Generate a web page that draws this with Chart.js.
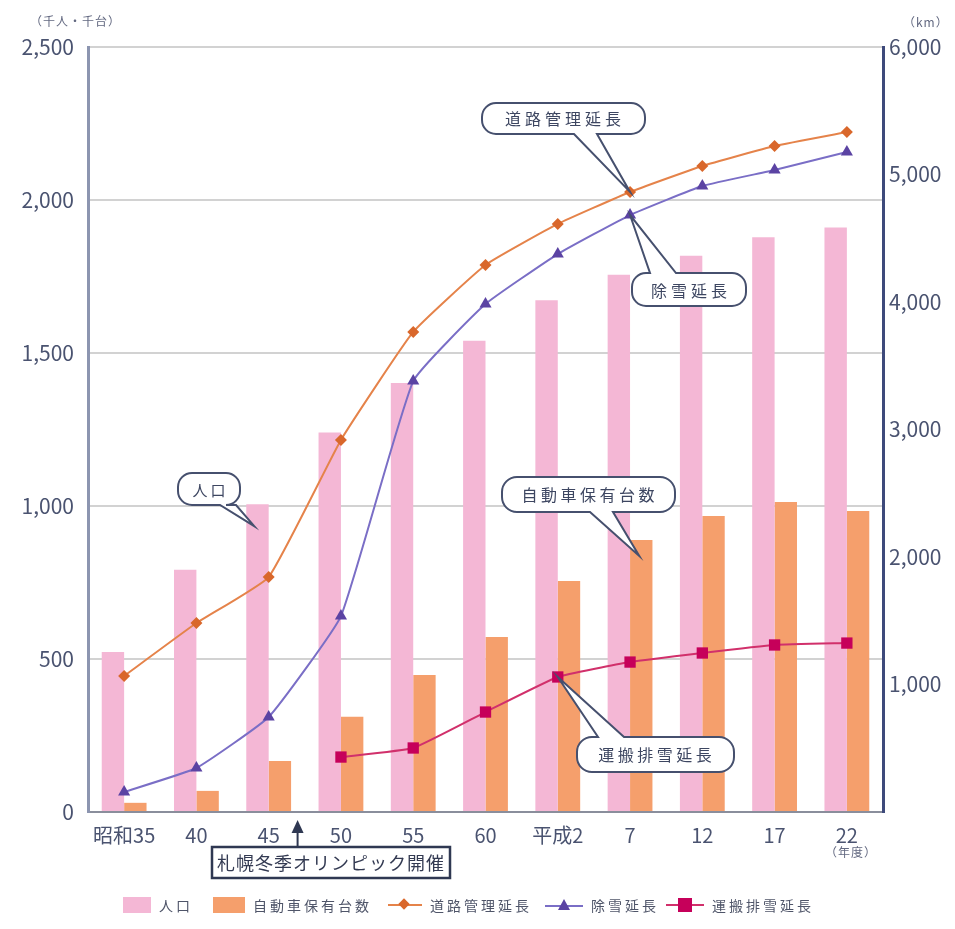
<!DOCTYPE html>
<html lang="ja">
<head>
<meta charset="utf-8">
<script src="https://cdn.jsdelivr.net/npm/chart.js@4.4.1/dist/chart.umd.min.js"></script>
<style>
  html, body { margin: 0; padding: 0; background: #fff; }
  #wrap { position: relative; width: 955px; height: 929px; font-family: "Noto Sans CJK JP", sans-serif; color: #4d5670; }
  #chart { position: absolute; left: 0; top: 0; }
  .unit { position: absolute; font-size: 12px; color: #626880; letter-spacing: 1px; }
  .lg { position: absolute; top: 893px; height: 24px; display: flex; align-items: center; font-size: 14px; letter-spacing: 3px; color: #4f5569; }
  .lg svg { margin-right: 8px; }
</style>
</head>
<body>
<div id="wrap">
  <canvas id="chart" width="955" height="929"></canvas>
  <div class="unit" style="left:30px; top:12px;">（千人・千台）</div>
  <div class="unit" style="left:903px; top:13px;">（km）</div>
  <div class="unit" style="left:825px; top:843px;">（年度）</div>

  <div class="lg" style="left:123px;"><svg width="28" height="18"><rect x="0" y="1" width="28" height="16" fill="#f4b7d5"/></svg>人口</div>
  <div class="lg" style="left:213px;"><svg width="32" height="18"><rect x="0" y="1" width="32" height="16" fill="#f59f6c"/></svg>自動車保有台数</div>
  <div class="lg" style="left:388px;"><svg width="34" height="18"><line x1="0" y1="9" x2="34" y2="9" stroke="#e5834a" stroke-width="2"/><rect x="12" y="4" width="8" height="8" fill="#d9672b" transform="rotate(45 16 8)"/></svg>道路管理延長</div>
  <div class="lg" style="left:545px;"><svg width="38" height="18"><line x1="0" y1="10" x2="38" y2="10" stroke="#7a6ec6" stroke-width="2"/><polygon points="19,3 25,14 13,14" fill="#5b43a3"/></svg>除雪延長</div>
  <div class="lg" style="left:666px;"><svg width="38" height="18"><line x1="0" y1="9" x2="38" y2="9" stroke="#d1306b" stroke-width="2"/><rect x="12" y="2" width="14" height="14" fill="#c6005a"/></svg>運搬排雪延長</div>
</div>
<script>
const years = ['昭和35', '40', '45', '50', '55', '60', '平成2', '7', '12', '17', '22'];

// 千人 / 千台 (left axis)
const population = [523, 792, 1006, 1240, 1402, 1540, 1672, 1756, 1818, 1878, 1910];
const cars = [30, 69, 167, 311, 448, 572, 755, 889, 967, 1013, 984];

// km (right axis)
const roadLength = [1067, 1482, 1843, 2918, 3765, 4290, 4612, 4863, 5067, 5224, 5333];
const snowClearLength = [157, 345, 745, 1537, 3380, 3984, 4376, 4682, 4910, 5035, 5176];
const snowHaulLength = [null, null, null, 431, 502, 784, 1059, 1176, 1247, 1310, 1325];

const FONT = '"Noto Sans CJK JP", sans-serif';
const TICK = '#4a5370';
const fmt = v => v.toLocaleString('en-US');

function bubble(ctx, x, y, w, h, r, tail) {
    ctx.beginPath();
    ctx.moveTo(x + r, y);
    if (tail.side === 'top') {
        ctx.lineTo(tail.a, y);
        ctx.lineTo(tail.tx, tail.ty);
        ctx.lineTo(tail.b, y);
    }
    ctx.arcTo(x + w, y, x + w, y + h, r);
    ctx.arcTo(x + w, y + h, x, y + h, r);
    if (tail.side === 'bottom') {
        ctx.lineTo(tail.b, y + h);
        ctx.lineTo(tail.tx, tail.ty);
        ctx.lineTo(tail.a, y + h);
    }
    ctx.arcTo(x, y + h, x, y, r);
    ctx.arcTo(x, y, x + w, y, r);
    ctx.closePath();
    ctx.fillStyle = '#fff';
    ctx.fill();
    ctx.lineWidth = 2;
    ctx.strokeStyle = '#46506e';
    ctx.stroke();
}

function label(ctx, text, cx, cy, size, spacing) {
    ctx.font = `${size}px ${FONT}`;
    ctx.letterSpacing = spacing + 'px';
    ctx.fillStyle = '#3d4661';
    ctx.textAlign = 'center';
    ctx.textBaseline = 'middle';
    ctx.fillText(text, cx + spacing / 2, cy + 1);
    ctx.letterSpacing = '0px';
}

const callouts = {
    id: 'callouts',
    afterDatasetsDraw(chart) {
        const { ctx, scales: { x, y2 } } = chart;
        ctx.save();

        // 道路管理延長 -> diamond at 平成7
        let tx = x.getPixelForValue(7), ty = y2.getPixelForValue(roadLength[7]);
        bubble(ctx, 482, 103, 163, 31, 14, { side: 'bottom', a: 574, b: 597, tx, ty });
        label(ctx, '道路管理延長', 563, 118, 16, 4);

        // 除雪延長 -> triangle at 平成7
        ty = y2.getPixelForValue(snowClearLength[7]);
        bubble(ctx, 632, 273, 114, 33, 14, { side: 'top', a: 650, b: 676, tx, ty });
        label(ctx, '除雪延長', 689, 290, 16, 4);

        // 人口 -> pink bar at 昭和45
        const pop = chart.getDatasetMeta(0).data[2];
        bubble(ctx, 178, 473, 62, 32, 14, { side: 'bottom', a: 220, b: 236,
            tx: pop.x - pop.width / 2 + 8, ty: pop.y + 22 });
        label(ctx, '人口', 209, 489, 15, 3);

        // 自動車保有台数 -> orange bar at 平成7
        const car = chart.getDatasetMeta(1).data[7];
        bubble(ctx, 502, 477, 173, 35, 15, { side: 'bottom', a: 590, b: 613,
            tx: car.x - 2, ty: car.y + 16 });
        label(ctx, '自動車保有台数', 588, 494, 16, 3.5);

        // 運搬排雪延長 -> square at 平成2
        tx = x.getPixelForValue(6);
        ty = y2.getPixelForValue(snowHaulLength[6]);
        bubble(ctx, 577, 737, 157, 35, 15, { side: 'top', a: 598, b: 624, tx, ty });
        label(ctx, '運搬排雪延長', 655, 754, 16, 3.5);

        ctx.restore();
    },
    afterDraw(chart) {
        const { ctx, scales: { x } } = chart;
        ctx.save();
        // 昭和47:札幌冬季オリンピック
        const ax = x.getPixelForValue(2) + 0.4 * (x.getPixelForValue(3) - x.getPixelForValue(2));
        ctx.strokeStyle = '#2f3852';
        ctx.fillStyle = '#2f3852';
        ctx.lineWidth = 2;
        ctx.beginPath();
        ctx.moveTo(ax, 847);
        ctx.lineTo(ax, 830);
        ctx.stroke();
        ctx.beginPath();
        ctx.moveTo(ax, 820);
        ctx.lineTo(ax - 6, 833);
        ctx.lineTo(ax + 6, 833);
        ctx.closePath();
        ctx.fill();
        ctx.fillStyle = '#fff';
        ctx.fillRect(212, 847, 238, 31);
        ctx.lineWidth = 2.5;
        ctx.strokeRect(212, 847, 238, 31);
        ctx.font = `18px ${FONT}`;
        ctx.letterSpacing = '1px';
        ctx.fillStyle = '#333a52';
        ctx.textAlign = 'center';
        ctx.textBaseline = 'middle';
        ctx.fillText('札幌冬季オリンピック開催', 331, 863);
        ctx.restore();
    }
};

new Chart(document.getElementById('chart'), {
    data: {
        labels: years,
        datasets: [
            {
                type: 'bar',
                label: '人口',
                data: population,
                backgroundColor: '#f4b7d5',
                yAxisID: 'y',
                order: 2,
                barPercentage: 1,
                categoryPercentage: 0.62,
            },
            {
                type: 'bar',
                label: '自動車保有台数',
                data: cars,
                backgroundColor: '#f59f6c',
                yAxisID: 'y',
                order: 2,
                barPercentage: 1,
                categoryPercentage: 0.62,
            },
            {
                type: 'line',
                label: '道路管理延長',
                data: roadLength,
                yAxisID: 'y2',
                borderColor: '#e5834a',
                borderWidth: 2,
                backgroundColor: '#d9672b',
                pointStyle: 'rectRot',
                pointRadius: 6,
                pointBorderWidth: 0,
                tension: 0.12,
                order: 1,
            },
            {
                type: 'line',
                label: '除雪延長',
                data: snowClearLength,
                yAxisID: 'y2',
                borderColor: '#7a6ec6',
                borderWidth: 2,
                backgroundColor: '#5b43a3',
                pointStyle: 'triangle',
                pointRadius: 7,
                pointBorderWidth: 0,
                tension: 0.12,
                order: 1,
            },
            {
                type: 'line',
                label: '運搬排雪延長',
                data: snowHaulLength,
                yAxisID: 'y2',
                borderColor: '#d1306b',
                borderWidth: 2,
                backgroundColor: '#c6005a',
                pointStyle: 'rect',
                pointRadius: 8,
                pointBorderWidth: 0,
                tension: 0.12,
                order: 0,
            },
        ]
    },
    options: {
        responsive: false,
        animation: false,
        layout: { padding: { top: 47, left: 0, right: 0, bottom: 0 } },
        plugins: {
            legend: { display: false },
            tooltip: { enabled: false },
        },
        scales: {
            x: {
                type: 'category',
                offset: true,
                grid: { display: false },
                border: { color: '#8a8e9c', width: 2 },
                ticks: { color: TICK, font: { family: FONT, size: 20 }, padding: 3, maxRotation: 0, autoSkip: false },
                afterFit: s => { s.height = 117; },
            },
            y: {
                position: 'left',
                min: 0,
                max: 2500,
                ticks: { stepSize: 500, callback: fmt, color: TICK, font: { family: FONT, size: 21 }, padding: 14 },
                grid: { color: '#d2d2d2', lineWidth: 2, drawTicks: false },
                border: { color: '#8c95b0', width: 3 },
                afterFit: s => { s.width = 88; },
            },
            y2: {
                position: 'right',
                min: 0,
                max: 6000,
                ticks: { stepSize: 1000, callback: v => v === 0 ? '' : fmt(v), color: TICK, font: { family: FONT, size: 21 }, padding: 6 },
                grid: { display: false, drawTicks: false },
                border: { color: '#3e4a7b', width: 3 },
                afterFit: s => { s.width = 72; },
            },
        },
    },
    plugins: [callouts],
});
</script>
</body>
</html>
